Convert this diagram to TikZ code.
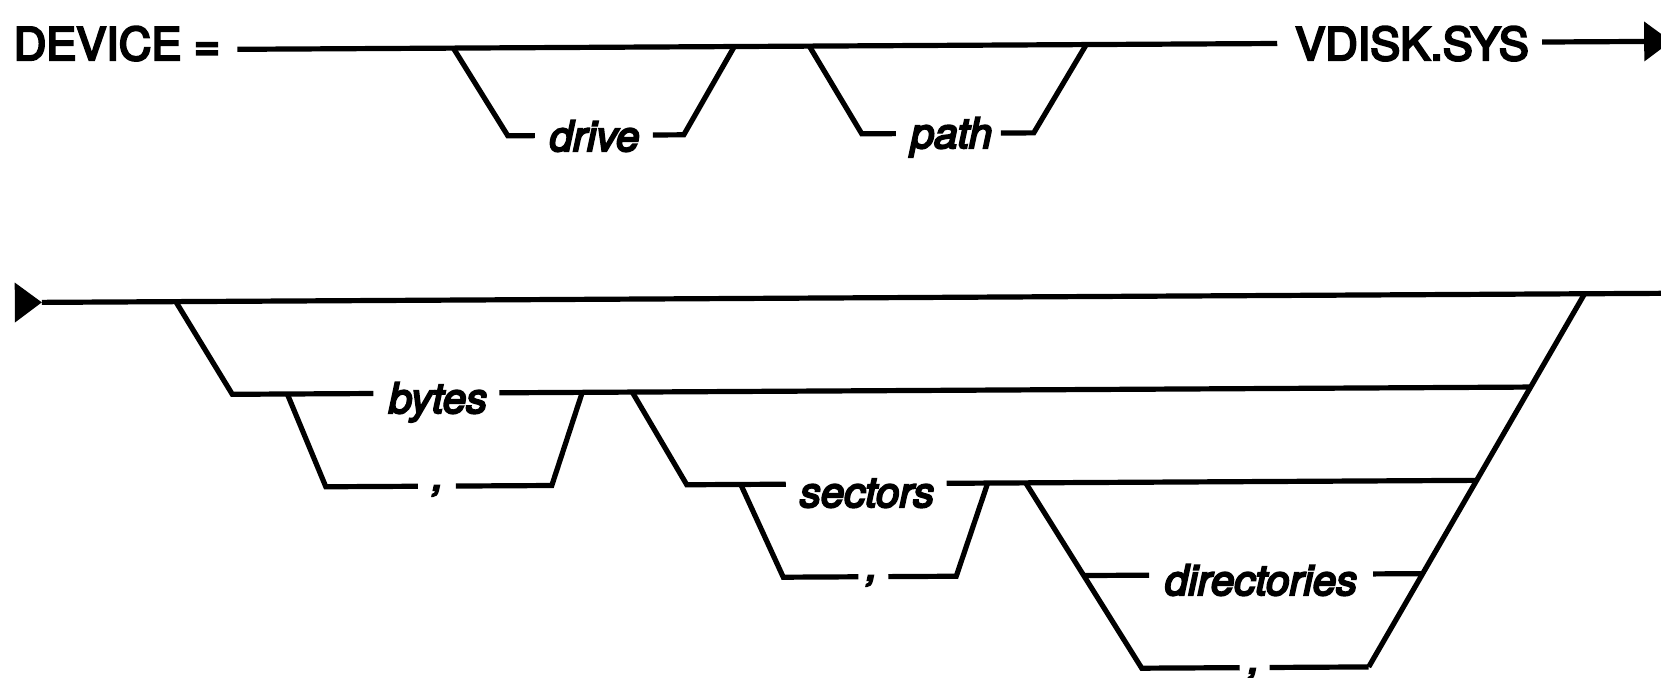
\documentclass[tikz,border=0pt]{standalone}
\usepackage{fontspec}
\newfontfamily\keyfont[FakeBold=5]{TeX Gyre Heros}
\newfontfamily\argfont[FakeBold=5]{TeX Gyre Heros}
\begin{document}
\begin{tikzpicture}[x=1pt,y=-1pt,
  rail/.style={line width=5.2pt},
  tip/.style={fill=black},
  kw/.style={font=\keyfont\fontsize{45}{45}\selectfont, inner sep=0pt, anchor=base},
  var/.style={font=\argfont\itshape\fontsize{42}{42}\selectfont, inner sep=0pt, anchor=base},
]
\useasboundingbox (0,0) rectangle (1661,677);
\clip (0,0) rectangle (1661,677);

% ---- labels ----
\node[kw]  (device)  at (117,60)    {DEVICE =};
\node[kw]  (vdisk)   at (1412,60)   {VDISK.SYS};
\node[var] (drive)   at (594.5,151) {drive};
\node[var] (path)    at (951.5,148) {path};
\node[var] (bytes)   at (438,413)   {bytes};
\node[var] (sectors) at (867,507)   {sectors};
\node[var] (dirs)    at (1261,595)  {directories};
\node[var] (cbytes)  at (438,490)   {,};
\node[var] (csect)   at (872,580)   {,};
\node[var] (cdirs)   at (1254,673)  {,};

% ---- rails (the whole diagram sits very slightly tilted) ----
\begin{scope}[rotate around={0.32:(830,338)}]
  % first line: DEVICE = [drive][path] VDISK.SYS
  \coordinate (t0) at (239,46);
  \coordinate (t1) at (1279,46);
  \coordinate (t2) at (1544,46);
  \coordinate (t3) at (1646,46);
  \coordinate (dA) at (455,46);  \coordinate (dB) at (509,134);
  \coordinate (dC) at (536,134); \coordinate (dD) at (654,134);
  \coordinate (dE) at (685,134); \coordinate (dF) at (736,46);
  \coordinate (pA) at (811,46);  \coordinate (pB) at (863,134);
  \coordinate (pC) at (897,134); \coordinate (pD) at (1002,134);
  \coordinate (pE) at (1035,134);\coordinate (pF) at (1088,46);

  \draw[rail] (t0) -- (t1);
  \draw[rail] (t2) -- (t3);
  \fill[tip] (t3) +(0,-20) -- +(27,0) -- +(0,20) -- cycle;
  \draw[rail] (dA) -- (dB) -- (dC);
  \draw[rail] (dD) -- (dE) -- (dF);
  \draw[rail] (pA) -- (pB) -- (pC);
  \draw[rail] (pD) -- (pE) -- (pF);

  % second line: [bytes[,sectors[,directories]]]
  \coordinate (b0)   at (42,298);
  \coordinate (bEnd) at (1700,298);
  \coordinate (gA) at (176,298);  \coordinate (gB) at (232,391);
  \coordinate (k1) at (373,391);  \coordinate (k2) at (499,391);
  \coordinate (rTop) at (1585,298); \coordinate (rBot) at (1367,670);
  \coordinate (r1) at (1530.5,391); \coordinate (r2) at (1476,484);
  \coordinate (r3) at (1421.5,577);
  % comma loop under bytes
  \coordinate (bl1) at (287,391); \coordinate (bl2) at (325,484);
  \coordinate (bl3) at (417,484); \coordinate (bl4) at (455,484);
  \coordinate (bl5) at (551,484); \coordinate (bl6) at (582,391);
  % sectors branch
  \coordinate (s0) at (632,391);  \coordinate (s1) at (686,484);
  \coordinate (s2) at (785,484);  \coordinate (s3) at (946,484);
  \coordinate (sl1) at (740,484); \coordinate (sl2) at (782,577);
  \coordinate (sl3) at (857,577); \coordinate (sl4) at (887,577);
  \coordinate (sl5) at (955,577); \coordinate (sl6) at (987,484);
  % directories branch
  \coordinate (q0) at (1025,484); \coordinate (q1) at (1082.5,577);
  \coordinate (q2) at (1140,670); \coordinate (q3) at (1238,670);
  \coordinate (q4) at (1268,670); \coordinate (q5) at (1148,577);
  \coordinate (q6) at (1372,577);

  \fill[tip] (b0) +(-27,-20) -- +(0,0) -- +(-27,20) -- cycle;
  \draw[rail] (b0) -- (bEnd);
  \draw[rail] (gA) -- (gB) -- (k1);
  \draw[rail] (k2) -- (r1);
  \draw[rail] (rTop) -- (rBot);
  \draw[rail] (bl1) -- (bl2) -- (bl3);
  \draw[rail] (bl4) -- (bl5) -- (bl6);
  \draw[rail] (s0) -- (s1) -- (s2);
  \draw[rail] (s3) -- (r2);
  \draw[rail] (sl1) -- (sl2) -- (sl3);
  \draw[rail] (sl4) -- (sl5) -- (sl6);
  \draw[rail] (q0) -- (q1) -- (q2) -- (q3);
  \draw[rail] (q4) -- (rBot);
  \draw[rail] (q1) -- (q5);
  \draw[rail] (q6) -- (r3);
\end{scope}
\end{tikzpicture}
\end{document}
